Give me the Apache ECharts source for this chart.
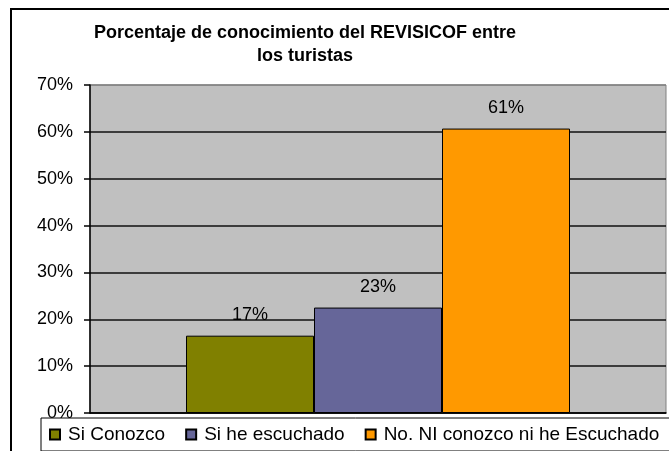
<!DOCTYPE html>
<html>
<head>
<meta charset="utf-8">
<script src="https://cdn.jsdelivr.net/npm/echarts@6/dist/echarts.min.js"></script>
<style>
  html, body {margin: 0; padding: 0; background: #fff;}
  #chart {width: 669px; height: 451px;}
</style>
</head>
<body>
<div id="chart"></div>
<script>
const titleText = 'Porcentaje de conocimiento del REVISICOF entre\nlos turistas';
const answers = ['Si Conozco', 'Si he escuchado', 'No. NI conozco ni he Escuchado'];
const percents = [16.5, 22.5, 60.7];
const colors = ['#808000', '#666699', '#FF9900'];

const font = 'Liberation Sans, Arial, sans-serif';

const series = answers.map((name, i) => ({
    name,
    type: 'bar',
    barWidth: 128,
    barGap: '0%',
    data: [percents[i]],
    itemStyle: {color: colors[i], borderColor: '#000', borderWidth: 1},
    label: {
        show: true,
        position: 'top',
        distance: 12,
        color: '#000',
        fontFamily: font,
        fontSize: 18,
        formatter: p => Math.round(p.value) + '%',
    },
}));

option = {
    backgroundColor: '#fff',
    animation: false,
    title: {
        text: titleText,
        left: 305,
        top: 22,
        padding: 0,
        textAlign: 'center',
        textStyle: {
            fontFamily: font,
            fontSize: 18,
            fontWeight: 'bold',
            lineHeight: 23,
            color: '#000',
        },
    },
    graphic: [{
        type: 'rect',
        shape: {x: 11, y: 9, width: 720, height: 520},
        style: {fill: 'none', stroke: '#000', lineWidth: 2},
        z: -1,
    }],
    legend: {
        left: 41,
        top: 418,
        width: 900,
        orient: 'horizontal',
        padding: [7, 30, 7, 8],
        itemGap: 20,
        itemWidth: 10,
        itemHeight: 10,
        icon: 'rect',
        backgroundColor: '#fff',
        borderColor: '#000',
        borderWidth: 1,
        borderRadius: 0,
        textStyle: {fontFamily: font, fontSize: 19, color: '#000', padding: [0, 0, 0, 3]},
        data: answers,
    },
    grid: {
        left: 90,
        top: 85,
        width: 576,
        height: 328,
        show: true,
        backgroundColor: '#C0C0C0',
        borderColor: '#808080',
        borderWidth: 1,
    },
    xAxis: {
        type: 'category',
        data: [''],
        axisLine: {show: true, lineStyle: {color: '#000', width: 1.5}},
        axisTick: {show: false},
        axisLabel: {show: false},
    },
    yAxis: {
        type: 'value',
        min: 0,
        max: 70,
        interval: 10,
        axisLine: {show: true, lineStyle: {color: '#000', width: 1.5}},
        axisTick: {show: true, inside: false, length: 6, lineStyle: {color: '#000', width: 1.5}},
        axisLabel: {
            formatter: '{value}%',
            margin: 17,
            color: '#000',
            fontFamily: font,
            fontSize: 18,
        },
        splitLine: {
            show: true,
            lineStyle: {
                color: ['#111', '#111', '#111', '#111', '#111', '#111', '#111', '#808080'],
                width: 1.5,
            },
        },
    },
    series,
};

dom = document.getElementById('chart');
chart = echarts.init(dom);
chart.setOption(option);
</script>
</body>
</html>
